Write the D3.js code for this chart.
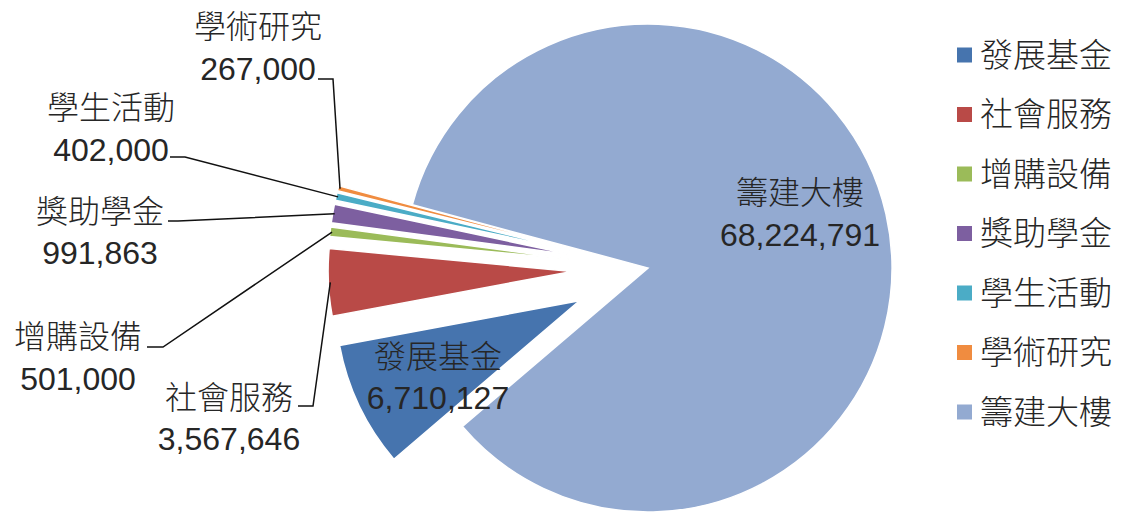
<!DOCTYPE html>
<html>
<head>
<meta charset="utf-8">
<script src="https://cdn.jsdelivr.net/npm/d3@7"></script>
<style>
  html, body { margin: 0; padding: 0; background: #fff; }
  text { font-family: "Liberation Sans", "Noto Sans CJK TC", sans-serif; fill: #262626; font-weight: 300; }
</style>
</head>
<body>
<div id="chart"></div>
<script>
const width = 1123, height = 512;

// data
const categories = ["發展基金", "社會服務", "增購設備", "獎助學金", "學生活動", "學術研究", "籌建大樓"];
const amounts = [6710127, 3567646, 501000, 991863, 402000, 267000, 68224791];
const colors = ["#4674AE", "#B94A47", "#9BBB59", "#7D5FA0", "#4BACC6", "#F08C40", "#93AAD1"];

// layout
const cx = 648, cy = 268, radius = 244;
const startDeg = 229.5;
const explode = [76, 76, 76, 76, 76, 76, 0];
// outside labels: text centre, leader start and bend; inside = label sits in slice
const labelLayout = [
    { x: 438, y1: 357, y2: 398, inside: true },
    { x: 229, y1: 398, y2: 439, from: [298, 406], bend: [313, 406] },
    { x: 78, y1: 337, y2: 379, from: [147, 347], bend: [163, 347] },
    { x: 100, y1: 212, y2: 253, from: [168, 221], bend: [178, 221] },
    { x: 111, y1: 108, y2: 150, from: [170, 157], bend: [185, 157] },
    { x: 258, y1: 27, y2: 69, from: [318, 79], bend: [333, 79] },
    { x: 800, y1: 193, y2: 235, inside: true }
];

const svg = d3.select("#chart")
    .append("svg")
    .attr("width", width)
    .attr("height", height);

const fmt = d3.format(",");

const pie = d3.pie()
    .sort(null)
    .value(d => d)
    .startAngle(startDeg * Math.PI / 180)
    .endAngle(startDeg * Math.PI / 180 + 2 * Math.PI);

const arcs = pie(amounts);
const arc = d3.arc().innerRadius(0).outerRadius(radius);
const rimArc = d3.arc().innerRadius(radius - 2).outerRadius(radius - 2);

function offset(d, i) {
    const mid = (d.startAngle + d.endAngle) / 2;
    return [Math.sin(mid) * explode[i], -Math.cos(mid) * explode[i]];
}

const pieG = svg.append("g").attr("transform", `translate(${cx},${cy})`);

pieG.selectAll("path.slice")
    .data(arcs)
    .enter()
    .append("path")
    .attr("class", "slice")
    .attr("d", arc)
    .attr("transform", (d, i) => {
        const o = offset(d, i);
        return `translate(${o[0]},${o[1]})`;
    })
    .attr("fill", (d, i) => colors[i])
    .attr("stroke", "#fff")
    .attr("stroke-width", 1.5);

// leader lines
const line = d3.line();
arcs.forEach((d, i) => {
    const lay = labelLayout[i];
    if (lay.inside) return;
    const o = offset(d, i);
    const c = rimArc.centroid(d);
    const end = [cx + c[0] + o[0], cy + c[1] + o[1]];
    svg.append("path")
        .attr("d", line([lay.from, lay.bend, end]))
        .attr("fill", "none")
        .attr("stroke", "#111")
        .attr("stroke-width", 1.5);
});

// data labels
const labels = svg.append("g").attr("font-size", 32);
categories.forEach((name, i) => {
    const lay = labelLayout[i];
    labels.append("text")
        .attr("x", lay.x).attr("y", lay.y1)
        .attr("text-anchor", "middle")
        .attr("dominant-baseline", "central")
        .text(name);
    labels.append("text")
        .attr("x", lay.x).attr("y", lay.y2)
        .attr("text-anchor", "middle")
        .attr("dominant-baseline", "central")
        .text(fmt(amounts[i]));
});

// legend
const legendY = d3.scalePoint()
    .domain(categories)
    .range([55, 412]);

const legend = svg.append("g");
legend.selectAll("rect")
    .data(categories)
    .enter()
    .append("rect")
    .attr("x", 957)
    .attr("y", d => legendY(d) - 7.5)
    .attr("width", 15)
    .attr("height", 15)
    .attr("fill", (d, i) => colors[i]);

legend.selectAll("text")
    .data(categories)
    .enter()
    .append("text")
    .attr("x", 980)
    .attr("y", d => legendY(d))
    .attr("dominant-baseline", "central")
    .attr("font-size", 33)
    .text(d => d);
</script>
</body>
</html>
